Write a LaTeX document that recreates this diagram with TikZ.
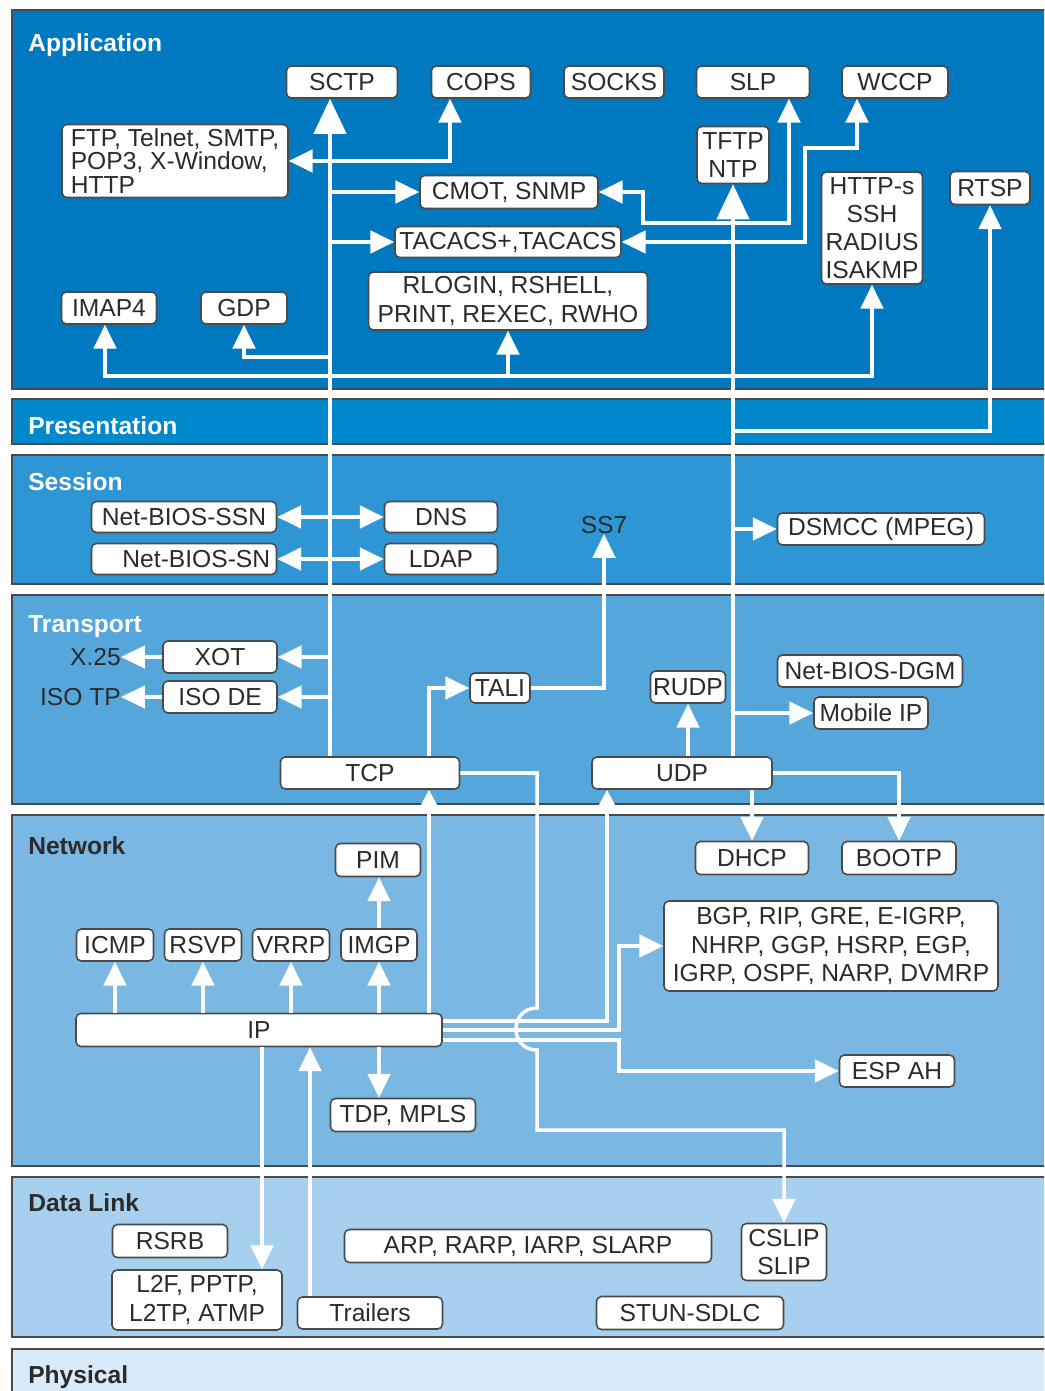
\documentclass[tikz,border=0pt]{standalone}
\usepackage{fontspec}
\setmainfont{Liberation Sans}
\usetikzlibrary{arrows.meta,calc,positioning}

\definecolor{appblue}{HTML}{0079C1}
\definecolor{presblue}{HTML}{0088CC}
\definecolor{sessblue}{HTML}{2E96D4}
\definecolor{transblue}{HTML}{55A6DB}
\definecolor{netblue}{HTML}{7BB7E3}
\definecolor{linkblue}{HTML}{A7D0EF}
\definecolor{physblue}{HTML}{D7EBF8}
\definecolor{txtgray}{HTML}{2B2B2B}
\definecolor{edgegray}{HTML}{4A4A4A}

\tikzset{
  osilayer/.style={fill=#1,draw=edgegray,line width=1pt},
  layername/.style={anchor=base west,inner sep=0pt,font=\fontsize{17.5}{17.5}\selectfont\bfseries},
  proto/.style={draw=edgegray,fill=white,rounded corners=3.5pt,line width=1.1pt,inner sep=0pt,text=txtgray,font=\fontsize{17.5}{20}\selectfont,align=center},
  sz/.style 2 args={minimum width=#1*0.025cm,minimum height=#2*0.025cm},
  loose/.style={inner sep=0pt,text=txtgray,font=\fontsize{17.5}{20}\selectfont},
  arr/.style={white,line width=2.5pt,-{Triangle[width=16pt,length=17pt]}},
  bigarr/.style={white,line width=2.5pt,-{Triangle[width=23pt,length=25pt]}},
  smallarr/.style={white,line width=2.5pt,-{Triangle[width=11pt,length=11pt]}},
  dblarr/.style={white,line width=2.5pt,{Triangle[width=16pt,length=17pt]}-{Triangle[width=16pt,length=17pt]}}
}

\begin{document}
\begin{tikzpicture}[x=0.025cm,y=-0.025cm]
	\useasboundingbox (0,0) rectangle (1044,1391);
	\clip (0,0) rectangle (1044,1391);

	% Draw layers
	\draw[osilayer=appblue] (12,10) rectangle (1060,389);
	\draw[osilayer=presblue] (12,399) rectangle (1060,444);
	\draw[osilayer=sessblue] (12,455) rectangle (1060,584);
	\draw[osilayer=transblue] (12,595) rectangle (1060,804);
	\draw[osilayer=netblue] (12,815) rectangle (1060,1166);
	\draw[osilayer=linkblue] (12,1177) rectangle (1060,1337);
	\draw[osilayer=physblue] (12,1349) rectangle (1060,1400);

	\node[layername,text=white] (tapp) at (28,52) {Application};
	\node[layername,text=white] (tpres) at (28,434) {Presentation};
	\node[layername,text=white] (tsess) at (28,490) {Session};
	\node[layername,text=white] (ttrans) at (28,632) {Transport};
	\node[layername,text=txtgray] (tnet) at (28,854) {Network};
	\node[layername,text=txtgray] (tlink) at (28,1211) {Data Link};
	\node[layername,text=txtgray] (tphys) at (28,1383) {Physical};

	% Application protocols
	\node[proto,sz={111}{32}] (sctp) at (342,82) {SCTP};
	\node[proto,sz={99}{32}] (cops) at (481,82) {COPS};
	\node[proto,sz={100}{32}] (socks) at (614,82) {SOCKS};
	\node[proto,sz={113}{32}] (slp) at (753,82) {SLP};
	\node[proto,sz={106}{32}] (wccp) at (895,82) {WCCP};
	\node[proto,sz={226}{73},align=left,font=\fontsize{17.5}{17}\selectfont] (ftp) at (175,161) {FTP, Telnet, SMTP,\\POP3, X-Window,\\HTTP};
	\node[proto,sz={72}{57}] (tftp) at (733,155) {TFTP\\NTP};
	\node[proto,sz={178}{33}] (cmot) at (509,192) {CMOT, SNMP};
	\node[proto,sz={226}{31}] (tacacs) at (508,242) {TACACS+,TACACS};
	\node[proto,sz={101}{112}] (https) at (872,228) {HTTP-s\\SSH\\RADIUS\\ISAKMP};
	\node[proto,sz={80}{33}] (rtsp) at (990,188) {RTSP};
	\node[proto,sz={279}{58}] (rlogin) at (508,301) {RLOGIN, RSHELL,\\PRINT, REXEC, RWHO};
	\node[proto,sz={95}{32}] (imap) at (109,308) {IMAP4};
	\node[proto,sz={86}{32}] (gdp) at (244,308) {GDP};

	% Session protocols
	\node[proto,sz={185}{31}] (ssn) at (184,517) {Net-BIOS-SSN};
	\node[proto,sz={185}{31}] (sn) at (184,559) {\hspace{1em}Net-BIOS-SN};
	\node[proto,sz={113}{31}] (dns) at (441,517) {DNS};
	\node[proto,sz={113}{31}] (ldap) at (441,559) {LDAP};
	\node[loose] (ss7) at (604,525) {SS7};
	\node[proto,sz={207}{32}] (dsmcc) at (881,529) {DSMCC (MPEG)};

	% Transport protocols
	\node[proto,sz={114}{32}] (xot) at (220,657) {XOT};
	\node[proto,sz={114}{32}] (isode) at (220,697) {ISO DE};
	\node[loose,anchor=east] (x25) at (121,657) {X.25};
	\node[loose,anchor=east] (isotp) at (121,697) {ISO TP};
	\node[proto,sz={60}{30}] (tali) at (500,688) {TALI};
	\node[proto,sz={75}{32}] (rudp) at (688,687) {RUDP};
	\node[proto,sz={185}{32}] (dgm) at (870,671) {Net-BIOS-DGM};
	\node[proto,sz={114}{32}] (mobip) at (871,713) {Mobile IP};
	\node[proto,sz={179}{32}] (tcp) at (370,773) {TCP};
	\node[proto,sz={180}{32}] (udp) at (682,773) {UDP};

	% Network protocols
	\node[proto,sz={85}{33}] (pim) at (378,860) {PIM};
	\node[proto,sz={77}{32}] (icmp) at (115,945) {ICMP};
	\node[proto,sz={77}{32}] (rsvp) at (203,945) {RSVP};
	\node[proto,sz={77}{32}] (vrrp) at (291,945) {VRRP};
	\node[proto,sz={76}{32}] (imgp) at (379,945) {IMGP};
	\node[proto,sz={366}{33}] (ip) at (259,1030) {IP};
	\node[proto,sz={145}{33}] (tdp) at (403,1115) {TDP, MPLS};
	\node[proto,sz={113}{33}] (dhcp) at (752,858) {DHCP};
	\node[proto,sz={114}{33}] (bootp) at (899,858) {BOOTP};
	\node[proto,sz={334}{90}] (bgp) at (831,946) {BGP, RIP, GRE, E-IGRP,\\NHRP, GGP, HSRP, EGP,\\IGRP, OSPF, NARP, DVMRP};
	\node[proto,sz={115}{32}] (esp) at (897,1071) {ESP AH};

	% Data link protocols
	\node[proto,sz={115}{33}] (rsrb) at (170,1241) {RSRB};
	\node[proto,sz={170}{60}] (l2f) at (197,1300) {L2F, PPTP,\\L2TP, ATMP};
	\node[proto,sz={145}{32}] (trailers) at (370,1313) {Trailers};
	\node[proto,sz={367}{33}] (arp) at (528,1246) {ARP, RARP, IARP, SLARP};
	\node[proto,sz={85}{57}] (cslip) at (784,1252) {CSLIP\\SLIP};
	\node[proto,sz={187}{33}] (stun) at (690,1313) {STUN-SDLC};

	% TCP trunk
	\coordinate (ta) at (330,0);
	\coordinate (tx) at (429,0);
	\draw[bigarr] (ta |- tcp.north) -- (ta |- sctp.south);
	\draw[arr] (ta |- ftp.east) -- (ftp.east);
	\draw[arr] (ta |- ftp.east) -| ($(cops.south)+(-31,0)$);
	\draw[arr] (ta |- cmot.west) -- (cmot.west);
	\draw[arr] (ta |- tacacs.west) -- (tacacs.west);
	\coordinate (jgdp) at (330,357);
	\draw[arr] (jgdp) -| (gdp.south);
	\coordinate (jbus) at (330,376);
	\draw[arr] (jbus) -| ($(imap.south)+(-4,0)$);
	\draw[arr] (jbus) -| (https.south);
	\draw[arr] (rlogin.south |- jbus) -- (rlogin.south);

	% UDP trunk
	\coordinate (tb) at (733,0);
	\draw[bigarr] (tb |- udp.north) -- (tftp.south);
	\coordinate (jslp) at (733,223);
	\draw[arr] (jslp) -- (643,223) |- (cmot.east);
	\draw[arr] (jslp) -| ($(slp.south)+(36,0)$);
	\coordinate (jwccp) at (733,242);
	\draw[arr] (jwccp) -- (tacacs.east);
	\draw[arr] (jwccp) -| (805,148) -| ($(wccp.south)+(-38,0)$);
	\coordinate (jrtsp) at (733,431);
	\draw[arr] (jrtsp) -| (rtsp.south);

	% Session links
	\draw[dblarr] (ssn.east) -- (dns.west);
	\draw[dblarr] (sn.east) -- (ldap.west);
	\draw[arr] (tb |- dsmcc.west) -- (dsmcc.west);

	% Transport links
	\draw[arr] (ta |- xot.east) -- (xot.east);
	\draw[arr] (xot.west) -- (x25.east);
	\draw[arr] (ta |- isode.east) -- (isode.east);
	\draw[arr] (isode.west) -- (isotp.east);
	\draw[arr] (tx |- tcp.north) |- (tali.west);
	\draw[arr] (tali.east) -| (ss7.south);
	\draw[arr] (rudp.south |- udp.north) -- (rudp.south);
	\draw[arr] (tb |- mobip.west) -- (mobip.west);

	% Network links
	\draw[arr] (udp.east) -| (bootp.north);
	\draw[arr] (dhcp.north |- udp.south) -- (dhcp.north);
	\draw[smallarr] ($(ip.east)+(0,-9)$) -| ($(udp.south)+(-75,0)$);
	\draw[arr] (ip.east) -- ++(176,0) |- (bgp.west);
	\draw[arr] ($(ip.east)+(0,10)$) -- ++(176,0) |- (esp.west);
	\draw[smallarr] (tx |- ip.north) -- (tx |- tcp.south);
	\foreach \n in {icmp,rsvp,vrrp,imgp}
		\draw[arr] (\n.south |- ip.north) -- (\n.south);
	\draw[arr] (imgp.north) -- (imgp.north |- pim.south);
	\draw[arr] (imgp |- ip.south) -- (imgp |- tdp.north);

	% TCP down to CSLIP, hopping over the IP lines
	\coordinate (hopa) at (537,1008);
	\coordinate (hopb) at (537,1050);
	\draw[arr] (tcp.east) -| (hopa) .. controls (509,1008) and (509,1050) .. (hopb) -- (537,1130) -| (cslip.north);

	% Data link links
	\coordinate (lx) at (262,0);
	\draw[arr] (lx |- ip.south) -- (lx |- l2f.north);
	\coordinate (trx) at (310,0);
	\draw[arr] (trx |- trailers.north) -- (trx |- ip.south);
\end{tikzpicture}
\end{document}
